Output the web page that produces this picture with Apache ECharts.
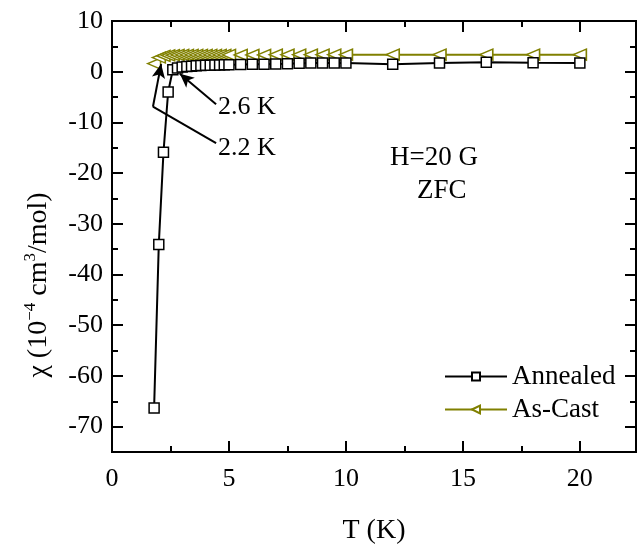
<!DOCTYPE html>
<html>
<head>
<meta charset="utf-8">
<script src="https://cdn.jsdelivr.net/npm/echarts@6/dist/echarts.min.js"></script>
<style>
  html, body { margin: 0; padding: 0; background: #fff; }
  #main { width: 637px; height: 550px; }
</style>
</head>
<body>
<div id="main"></div>
<script>
// -- data --
const annealedT = [1.8, 2.0, 2.2, 2.4, 2.6, 2.8, 3.0, 3.2, 3.4, 3.6, 3.8, 4.0, 4.2, 4.4, 4.6, 4.8, 5.0,
  5.5, 6.0, 6.5, 7.0, 7.5, 8.0, 8.5, 9.0, 9.5, 10, 12, 14, 16, 18, 20];
const annealedChi = [-66.3, -34.1, -15.9, -4.0, 0.4, 0.75, 0.95, 1.05, 1.1, 1.15, 1.2, 1.25, 1.28, 1.3, 1.32, 1.35, 1.38,
  1.4, 1.45, 1.45, 1.5, 1.55, 1.65, 1.7, 1.7, 1.7, 1.7, 1.45, 1.7, 1.85, 1.75, 1.7];

const asCastT = [1.8, 2.0, 2.2, 2.4, 2.6, 2.8, 3.0, 3.2, 3.4, 3.6, 3.8, 4.0, 4.2, 4.4, 4.6, 4.8, 5.0,
  5.5, 6.0, 6.5, 7.0, 7.5, 8.0, 8.5, 9.0, 9.5, 10, 12, 14, 16, 18, 20];
const asCastChi = [1.6, 2.8, 3.1, 3.2, 3.25, 3.3, 3.3, 3.3, 3.3, 3.3, 3.3, 3.3, 3.3, 3.3, 3.3, 3.3, 3.3,
  3.3, 3.3, 3.3, 3.35, 3.35, 3.35, 3.35, 3.35, 3.35, 3.35, 3.35, 3.35, 3.35, 3.35, 3.35];

const xMajor = [0, 5, 10, 15, 20];
const xMinor = [2.5, 7.5, 12.5, 17.5];
const yMajor = [-70, -60, -50, -40, -30, -20, -10, 0, 10];
const yMinor = [-75, -65, -55, -45, -35, -25, -15, -5, 5];

const FONT = '"Liberation Serif", "Times New Roman", serif';
const OLIVE = '#808000';

function zip(a, b) {
  return a.map((v, i) => [v, b[i]]);
}

// -- axes: major / minor ticks on all four sides --
function xAx(pos, ticks, len, labels, name) {
  return {
    type: 'value', position: pos, min: 0, max: 22.4,
    name: name || '', nameLocation: 'middle', nameGap: 65,
    nameTextStyle: { fontFamily: FONT, fontSize: 28, color: '#000' },
    axisLine: { show: true, onZero: false, lineStyle: { color: '#000', width: 2 } },
    axisTick: { show: true, inside: true, length: len, customValues: ticks, lineStyle: { color: '#000', width: 2 } },
    axisLabel: labels ? { show: true, customValues: ticks, margin: 14, fontFamily: FONT, fontSize: 26, color: '#000' } : { show: false },
    splitLine: { show: false }
  };
}

function yAx(pos, ticks, len, labels) {
  return {
    type: 'value', position: pos, min: -75, max: 10,
    axisLine: { show: true, onZero: false, lineStyle: { color: '#000', width: 2 } },
    axisTick: { show: true, inside: true, length: len, customValues: ticks, lineStyle: { color: '#000', width: 2 } },
    axisLabel: labels ? { show: true, customValues: ticks, margin: 9, fontFamily: FONT, fontSize: 26, color: '#000' } : { show: false },
    splitLine: { show: false }
  };
}

let option = {
  animation: false,
  backgroundColor: '#fff',
  grid: { left: 112, right: 1, top: 21, bottom: 87, containLabel: false },
  xAxis: [
    xAx('bottom', xMajor, 11, true, 'T (K)'),
    xAx('bottom', xMinor, 6, false),
    xAx('top', xMajor, 11, false),
    xAx('top', xMinor, 6, false)
  ],
  yAxis: [
    yAx('left', yMajor, 11, true),
    yAx('left', yMinor, 6, false),
    yAx('right', yMajor, 11, false),
    yAx('right', yMinor, 6, false)
  ],
  legend: {
    orient: 'vertical', left: 439, top: 358,
    itemWidth: 62, itemHeight: 10, itemGap: 6,
    textStyle: { fontFamily: FONT, fontSize: 27, color: '#000' },
    data: ['Annealed', 'As-Cast']
  },
  series: [
    {
      name: 'Annealed', type: 'line',
      data: zip(annealedT, annealedChi),
      symbol: 'rect', symbolSize: 10,
      lineStyle: { color: '#000', width: 2 },
      itemStyle: { color: '#fff', borderColor: '#000', borderWidth: 1.5 },
      z: 3,
      markLine: {
        silent: true, animation: false,
        label: { show: false },
        lineStyle: { color: '#000', width: 2, type: 'solid' },
        symbol: ['none', 'arrow'], symbolSize: [10, 14],
        data: [
          [{ coord: [4.45, -6.4] }, { coord: [2.9, -0.4] }],
          [{ coord: [4.45, -14.1], symbol: 'none' }, { coord: [1.75, -6.9], symbol: 'none' }],
          [{ coord: [1.75, -6.9] }, { coord: [2.1, 1.5] }]
        ]
      }
    },
    {
      name: 'As-Cast', type: 'line',
      data: zip(asCastT, asCastChi),
      symbol: 'triangle', symbolRotate: 90, symbolSize: [11, 13],
      lineStyle: { color: OLIVE, width: 2 },
      itemStyle: { color: '#fff', borderColor: OLIVE, borderWidth: 1.5 },
      z: 2
    }
  ],
  graphic: [
    {
      type: 'text', x: 36, y: 285, rotation: Math.PI / 2,
      style: {
        text: '{t|χ (10}{s|−4}{t| cm}{s|3}{t|/mol)}',
        align: 'center', verticalAlign: 'middle',
        rich: {
          t: { fontFamily: FONT, fontSize: 28, lineHeight: 34, verticalAlign: 'bottom', fill: '#000' },
          s: { fontFamily: FONT, fontSize: 17, lineHeight: 34, verticalAlign: 'top', padding: [3, 0, 0, 0], fill: '#000' }
        }
      }
    },
    { type: 'text', left: 218, top: 94, style: { text: '2.6 K', font: '26px ' + FONT, fill: '#000' } },
    { type: 'text', left: 218, top: 135, style: { text: '2.2 K', font: '26px ' + FONT, fill: '#000' } },
    { type: 'text', left: 390, top: 144, style: { text: 'H=20 G', font: '27px ' + FONT, fill: '#000' } },
    { type: 'text', left: 417, top: 177, style: { text: 'ZFC', font: '27px ' + FONT, fill: '#000' } }
  ]
};

let myChart = echarts.init(document.getElementById('main'));
myChart.setOption(option);
</script>
</body>
</html>
